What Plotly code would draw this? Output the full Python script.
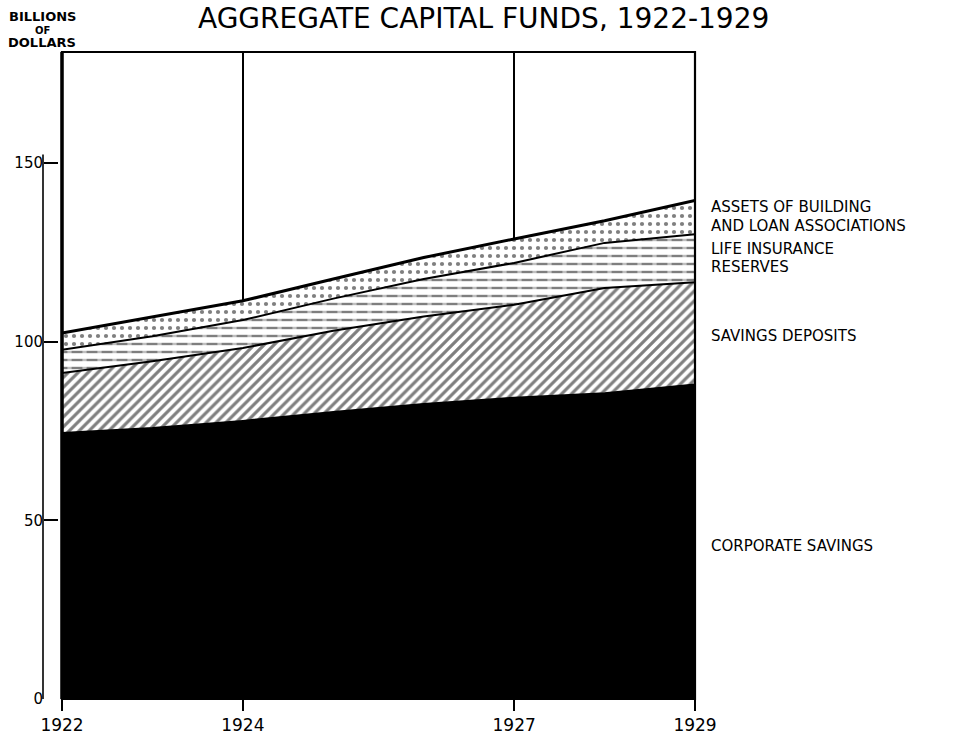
import numpy as np
import plotly.graph_objects as go

# Components of aggregate capital funds, billions of dollars
years = [1922, 1923, 1924, 1925, 1926, 1927, 1928, 1929]
corporate_savings = [74.4, 75.8, 77.8, 80.3, 82.5, 84.3, 85.5, 88.0]
savings_deposits = [16.8, 18.7, 20.4, 22.7, 24.5, 26.0, 29.5, 28.6]
life_insurance = [6.5, 7.0, 7.8, 9.0, 10.5, 11.7, 12.6, 13.4]
building_loan = [4.7, 5.3, 5.4, 5.5, 6.0, 6.7, 6.2, 9.5]

x_ticks = [1922, 1924, 1927, 1929]
y_ticks = [0, 50, 100, 150]

# cumulative layer tops
c1 = np.array(corporate_savings)
c2 = c1 + np.array(savings_deposits)
c3 = c2 + np.array(life_insurance)
c4 = c3 + np.array(building_loan)

W, H = 954, 736
ML, MR, MT, MB = 40, 259, 52, 37
PW = W - ML - MR
PH = H - MT - MB
FONT = "DejaVu Sans"


def px_x(p):
    return (p - ML) / PW


def px_y(p):
    return (H - MB - p) / PH


fig = go.Figure()

# corporate savings: solid black
fig.add_trace(go.Scatter(x=years, y=c1, mode="lines", fill="tozeroy",
                         fillcolor="black", line=dict(width=0, color="black"),
                         hoverinfo="skip", showlegend=False))
# savings deposits: diagonal hatching
fig.add_trace(go.Scatter(x=years, y=c2, mode="lines", fill="tonexty",
                         fillcolor="white", line=dict(width=0),
                         fillpattern=dict(shape="/", fgcolor="black", bgcolor="white",
                                          size=7, solidity=0.45),
                         hoverinfo="skip", showlegend=False))
# life insurance reserves: horizontal rules ...
fig.add_trace(go.Scatter(x=years, y=c3, mode="lines", fill="tonexty",
                         fillcolor="white", line=dict(width=0),
                         fillpattern=dict(shape="-", fgcolor="black", bgcolor="white",
                                          size=8, solidity=0.3),
                         hoverinfo="skip", showlegend=False))
# ... broken into dashes by thin white bars
fig.add_trace(go.Scatter(x=years, y=c2, mode="lines", line=dict(width=0),
                         hoverinfo="skip", showlegend=False))
fig.add_trace(go.Scatter(x=years, y=c3, mode="lines", fill="tonexty",
                         fillcolor="rgba(0,0,0,0)", line=dict(width=0),
                         fillpattern=dict(shape="|", fgcolor="white",
                                          bgcolor="rgba(0,0,0,0)",
                                          size=15, solidity=0.28),
                         hoverinfo="skip", showlegend=False))
# building and loan associations: stipple
fig.add_trace(go.Scatter(x=years, y=c4, mode="lines", fill="tonexty",
                         fillcolor="white", line=dict(width=0),
                         fillpattern=dict(shape=".", fgcolor="black", bgcolor="white",
                                          size=8, solidity=0.22),
                         hoverinfo="skip", showlegend=False))

# boundary lines of each layer
for top, w in [(c1, 2), (c2, 2), (c3, 2), (c4, 3)]:
    fig.add_trace(go.Scatter(x=years, y=top, mode="lines",
                             line=dict(width=w, color="black"),
                             hoverinfo="skip", showlegend=False))

shapes = [
    # frame of the plotting field
    dict(type="rect", xref="x domain", yref="y domain", x0=0, x1=1, y0=0, y1=1,
         line=dict(color="black", width=2.2), layer="above"),
    dict(type="line", xref="x domain", yref="y domain", x0=0, x1=0, y0=0, y1=1,
         line=dict(color="black", width=3.5), layer="above"),
    # detached value scale
    dict(type="line", xref="paper", yref="y", x0=px_x(43), x1=px_x(43),
         y0=0, y1=152.3, line=dict(color="black", width=1.6), layer="above"),
]

annotations = [
    dict(text="AGGREGATE CAPITAL FUNDS, 1922-1929", xref="paper", yref="paper",
         x=px_x(483), y=px_y(18), xanchor="center", yanchor="middle",
         showarrow=False, font=dict(family=FONT, size=28, color="black")),
    dict(text="<b>BILLIONS</b>", xref="paper", yref="paper", x=px_x(42), y=px_y(17),
         xanchor="center", yanchor="middle", showarrow=False,
         font=dict(family=FONT, size=13, color="black")),
    dict(text="<b>OF</b>", xref="paper", yref="paper", x=px_x(42), y=px_y(30),
         xanchor="center", yanchor="middle", showarrow=False,
         font=dict(family=FONT, size=10, color="black")),
    dict(text="<b>DOLLARS</b>", xref="paper", yref="paper", x=px_x(42), y=px_y(42),
         xanchor="center", yanchor="middle", showarrow=False,
         font=dict(family=FONT, size=13, color="black")),
]

labels = [
    ("ASSETS OF BUILDING", 207),
    ("AND LOAN ASSOCIATIONS", 226),
    ("LIFE INSURANCE", 249),
    ("RESERVES", 267),
    ("SAVINGS DEPOSITS", 336),
    ("CORPORATE SAVINGS", 546),
]
for txt, py in labels:
    annotations.append(dict(text=txt, xref="paper", yref="paper", x=px_x(709), y=px_y(py),
                            xanchor="left", yanchor="middle", showarrow=False,
                            font=dict(family=FONT, size=15, color="black")))

fig.update_layout(
    width=W, height=H,
    margin=dict(l=ML, r=MR, t=MT, b=MB, pad=0, autoexpand=False),
    paper_bgcolor="white", plot_bgcolor="white",
    shapes=shapes, annotations=annotations,
    xaxis=dict(domain=[px_x(62), 1], range=[1922, 1929], tickvals=x_ticks,
               ticktext=[str(v) for v in x_ticks], ticks="outside", ticklen=11,
               tickwidth=1.6, tickcolor="black", showgrid=True, gridcolor="black",
               gridwidth=2, showline=False, zeroline=False, automargin=False,
               tickfont=dict(family=FONT, size=17, color="black")),
    yaxis=dict(anchor="free", position=px_x(43), range=[0, 181], tickvals=y_ticks,
               ticks="inside", ticklen=14, tickwidth=1.6, tickcolor="black",
               showgrid=False, showline=False, zeroline=False, automargin=False,
               tickfont=dict(family=FONT, size=15, color="black")),
)

fig.write_html("out.html")
